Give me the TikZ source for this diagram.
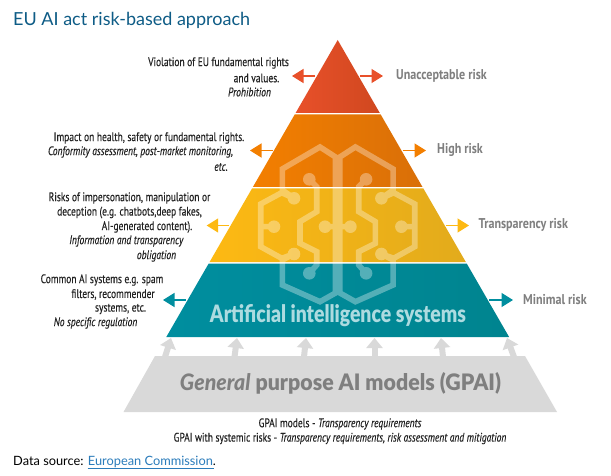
\documentclass[tikz,border=0pt]{standalone}
\usepackage{fontspec}
\usepackage{graphicx}
\usetikzlibrary{arrows.meta}
\setmainfont{PT Sans}
\newfontfamily\condf[FakeStretch=0.765,FakeBold=0.25]{PT Sans}
\newfontfamily\headf[FakeStretch=0.85,UprightFont=* Bold,ItalicFont=* Bold Italic]{PT Sans}
\newfontfamily\bigf[ItalicFont={Lato Black Italic}]{Lato Black}
\newfontfamily\titlef{Lato}
\definecolor{redA}{HTML}{E8502A}\definecolor{redB}{HTML}{D0481F}
\definecolor{orA}{HTML}{F37F00}\definecolor{orB}{HTML}{D96F08}
\definecolor{yeA}{HTML}{FDB913}\definecolor{yeB}{HTML}{E2AB1C}
\definecolor{teA}{HTML}{008E9F}\definecolor{teB}{HTML}{00848F}
\definecolor{greyband}{HTML}{D9D9D9}
\definecolor{labelgrey}{HTML}{7F7F7F}
\definecolor{titleblue}{HTML}{0E5C86}
\definecolor{linkblue}{HTML}{2B7CBB}
\definecolor{bodyink}{HTML}{222222}
\tikzset{
  desc/.style={font=\condf\fontsize{12.4}{14}\selectfont,text=bodyink,inner sep=0pt,anchor=center},
  risklabel/.style={font=\headf\fontsize{14.2}{16}\selectfont,text=labelgrey,inner sep=0pt,anchor=west},
  riskarrow/.style={line width=1.3pt,-{Triangle[length=11.5pt,width=14pt]}},
  feedarrow/.style={line width=6pt,greyband,-{Triangle[length=10pt,width=16pt]},shorten >=0pt},
  brainline/.style={line width=5.6pt,white,miter limit=10},
}
\newcommand{\halfbrain}{%
  \draw[brainline] (335.5,293) -- (335.5,157) -- (320,147) -- (282.3,169) -- (282.3,190) -- (294,198.3) -- (281.7,192.7) -- (260.7,204) -- (260.7,246.7) -- (281.7,258.3) -- (294,254) -- (282.3,260) -- (282.3,285) -- (320,301.7) -- cycle;
  \draw[brainline] (274,226.7) -- (260.7,226.7);
  \draw[brainline] (309.3,179.3) -- (316.7,186.7) -- (316.7,211.7) -- (300,221.7) -- (300,243.3) -- (316.7,251.7) -- (316.7,265) -- (309.3,273.3);
  \draw[brainline] (325,226.7) -- (337.7,226.7);
  \fill[white] (294,198.3) circle (6.3) (294,254) circle (6.3) (274,226.7) circle (6.3) (309.3,179.3) circle (6.3) (309.3,273.3) circle (6.3) (325,226.7) circle (6.3);
}
\begin{document}
\begin{tikzpicture}[x=1pt,y=-1pt]
\useasboundingbox (0,0) rectangle (611,476);
\fill[white] (0,0) rectangle (611,476);

% title
\node[font=\titlef\fontsize{18}{20}\selectfont,text=titleblue,inner sep=0pt,anchor=west] (title) at (13,20) {EU AI act risk-based approach};

% pyramid tiers
\shade[left color=redA,right color=redB] (337.7,40) -- (379.8,113) -- (295.6,113) -- cycle;
\shade[left color=orA,right color=orB] (294.7,114.5) -- (380.7,114.5) -- (422.5,187) -- (252.9,187) -- cycle;
\shade[left color=yeA,right color=yeB] (252,188.5) -- (423.4,188.5) -- (465.8,262) -- (209.6,262) -- cycle;
\shade[left color=teA,right color=teB] (208.7,263.5) -- (466.7,263.5) -- (509.1,337) -- (166.3,337) -- cycle;

% brain overlay
\begin{scope}[transparency group,opacity=.33]
  \halfbrain
  \begin{scope}[shift={(675.4,0)},xscale=-1]
    \halfbrain
  \end{scope}
\end{scope}

% base band
\fill[greyband] (155,356) -- (525,356) -- (557,412) -- (123.5,412) -- cycle;

% feed arrows
\foreach \n/\bx/\tx in {1/165/171,2/234.5/237,3/304/306,4/374.5/374.5,5/443/441,6/514/507}{
  \coordinate (fb\n) at (\bx,357);
  \coordinate (ft\n) at (\tx,338);
  \draw[feedarrow] (fb\n) -- (ft\n);
}

% big labels
\node[font=\bigf\fontsize{22}{26}\selectfont,text=white!68!teA,inner sep=0pt] (ai) at (338,316) {\resizebox{256pt}{18pt}{Artificial intelligence systems}};
\node[font=\bigf\fontsize{22}{26}\selectfont,text=labelgrey,inner sep=0pt] (gpai) at (340.5,383) {\resizebox{321pt}{18pt}{\textit{General} purpose AI models (GPAI)}};

% arrows
\coordinate (ua) at (315,76);  \coordinate (ub) at (292,76);
\coordinate (uc) at (360,76);  \coordinate (ud) at (383,76);
\draw[riskarrow,redA] (ua) -- (ub);
\draw[riskarrow,redA] (uc) -- (ud);
\coordinate (ha) at (272.7,150.5); \coordinate (hb) at (250,150.5);
\coordinate (hc) at (403,150.5);   \coordinate (hd) at (426,150.5);
\draw[riskarrow,orA] (ha) -- (hb);
\draw[riskarrow,orA] (hc) -- (hd);
\coordinate (ta) at (229,225.5); \coordinate (tb) at (206.7,225.5);
\coordinate (tc) at (446,225.5); \coordinate (td) at (469,225.5);
\draw[riskarrow,yeA] (ta) -- (tb);
\draw[riskarrow,yeA] (tc) -- (td);
\coordinate (ma) at (186,300); \coordinate (mb) at (163,300);
\coordinate (mc) at (489,300); \coordinate (md) at (513,300);
\draw[riskarrow,teA] (ma) -- (mb);
\draw[riskarrow,teA] (mc) -- (md);

% right labels
\node[risklabel] (r1) at (396,76) {Unacceptable risk};
\node[risklabel] (r2) at (437,150) {High risk};
\node[risklabel] (r3) at (478.5,225) {Transparency risk};
\node[risklabel] (r4) at (523,300) {Minimal risk};

% left descriptions
\node[desc] (v1) at (218.5,63) {Violation of EU fundamental rights};
\node[desc] (v2) at (256.5,78) {and values.};
\node[desc] (v3) at (249.5,92) {\textit{Prohibition}};
\node[desc] (i1) at (149,138) {Impact on health, safety or fundamental rights.};
\node[desc] (i2) at (140.5,152) {\textit{Conformity assessment, post-market monitoring,}};
\node[desc] (i3) at (221,167) {\textit{etc.}};
\node[desc] (k1) at (129.5,198) {Risks of impersonation, manipulation or};
\node[desc] (k2) at (129.5,212.5) {deception (e.g. chatbots,deep fakes,};
\node[desc] (k3) at (147,227) {AI-generated content).};
\node[desc] (k4) at (126.5,241) {\textit{Information and transparency}};
\node[desc] (k5) at (156.5,256) {\textit{obligation}};
\node[desc] (c1) at (102,280) {Common AI systems e.g. spam};
\node[desc] (c2) at (113,294.5) {filters, recommender};
\node[desc] (c3) at (120.5,309) {systems, etc.};
\node[desc] (c4) at (95.5,323) {\textit{No specific regulation}};

% bottom text
\node[desc] (g1) at (340,424) {GPAI models - \textit{Transparency requirements}};
\node[desc] (g2) at (340,438.5) {GPAI with systemic risks - \textit{Transparency requirements, risk assessment and mitigation}};

% source
\node[font=\titlef\fontsize{12.8}{14}\selectfont,text=black,inner sep=0pt,anchor=west] (src) at (13,462) {Data source: \textcolor{linkblue}{European Commission}.};
\coordinate (ula) at (87.5,468.5);
\coordinate (ulb) at (213.5,468.5);
\draw[linkblue,line width=1.1pt] (ula) -- (ulb);
\end{tikzpicture}
\end{document}
